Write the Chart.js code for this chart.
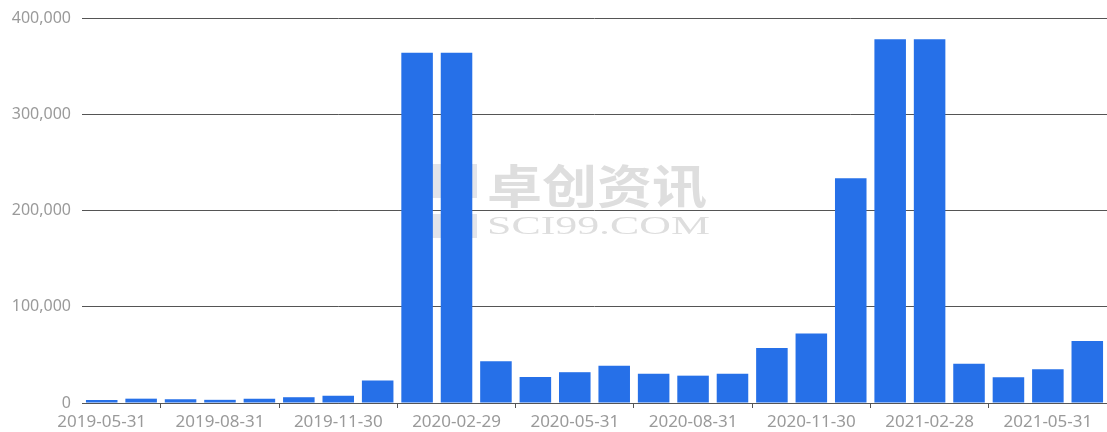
<!DOCTYPE html>
<html>
<head>
<meta charset="utf-8">
<script src="https://cdn.jsdelivr.net/npm/chart.js@4/dist/chart.umd.min.js"></script>
<style>
  html, body { margin: 0; padding: 0; background: #ffffff; }
  #wrap { position: relative; width: 1107px; height: 432px; }
</style>
</head>
<body>
<div id="wrap"><canvas id="c" width="1107" height="432"></canvas></div>
<script>
const categories = [
  '2019-05-31','2019-06-30','2019-07-31','2019-08-31','2019-09-30','2019-10-31',
  '2019-11-30','2019-12-31','2020-01-31','2020-02-29','2020-03-31','2020-04-30',
  '2020-05-31','2020-06-30','2020-07-31','2020-08-31','2020-09-30','2020-10-31',
  '2020-11-30','2020-12-31','2021-01-31','2021-02-28','2021-03-31','2021-04-30',
  '2021-05-31','2021-06-30'
];
const values = [
  3100, 4500, 4000, 3300, 4300, 6000,
  7500, 23500, 364000, 364000, 43500, 27000,
  32000, 38800, 30500, 28400, 30500, 57200,
  72100, 233500, 378000, 378000, 40800, 26700,
  35000, 64500
];
const yTicks = [0, 100000, 200000, 300000, 400000];
const watermarkCN = '卓创资讯';
const watermarkEN = 'SCI99.COM';

const BAR_COLOR = '#2670e8';
const GRID_COLOR = '#555555';
const LABEL_COLOR = '#9a9a9a';

const watermark = {
  id: 'watermark',
  beforeDraw(chart) {
    const ctx = chart.ctx;
    ctx.save();
    // logo blocks (mostly hidden behind bars)
    ctx.fillStyle = '#e2e4ea';
    ctx.fillRect(432, 164, 45, 34);
    ctx.fillRect(432, 214, 45, 24);
    // Chinese text
    ctx.fillStyle = '#dedede';
    ctx.textBaseline = 'alphabetic';
    ctx.font = 'bold 46px "Noto Sans CJK SC"';
    let w = ctx.measureText(watermarkCN).width;
    ctx.save();
    ctx.translate(487, 203);
    ctx.scale(220 / w, 1);
    ctx.fillText(watermarkCN, 0, 0);
    ctx.restore();
    // English text
    ctx.font = '26px "Liberation Serif", "DejaVu Serif", serif';
    w = ctx.measureText(watermarkEN).width;
    ctx.save();
    ctx.translate(487, 234);
    ctx.scale(223 / w, 1);
    ctx.fillText(watermarkEN, 0, 0);
    ctx.restore();
    ctx.restore();
  }
};

new Chart(document.getElementById('c'), {
  type: 'bar',
  data: {
    labels: categories,
    datasets: [{
      data: values,
      backgroundColor: BAR_COLOR,
      borderWidth: 0,
      categoryPercentage: 0.8,
      barPercentage: 1.0
    }]
  },
  plugins: [watermark],
  options: {
    responsive: false,
    animation: false,
    events: [],
    layout: { padding: { top: 18, right: 0, bottom: 0, left: 0 } },
    plugins: { legend: { display: false }, tooltip: { enabled: false } },
    scales: {
      x: {
        offset: true,
        afterFit(scale) { scale.height = 29; scale.paddingLeft = 0; scale.paddingRight = 0; },
        border: { display: true, color: GRID_COLOR, width: 1 },
        grid: {
          offset: true,
          drawOnChartArea: false,
          drawTicks: true,
          tickLength: 5,
          tickColor: (ctx) => (ctx.index % 3 === 2 && ctx.index < categories.length) ? GRID_COLOR : 'rgba(0,0,0,0)'
        },
        ticks: {
          autoSkip: false,
          maxRotation: 0,
          minRotation: 0,
          padding: 4,
          color: LABEL_COLOR,
          font: { family: '"Noto Sans"', size: 17 },
          callback: function(v, i) { return i % 3 === 0 ? categories[i] : ''; }
        }
      },
      y: {
        min: 0,
        max: 400000,
        afterFit(scale) { scale.width = 82; scale.paddingTop = 0; scale.paddingBottom = 0; },
        afterBuildTicks(scale) { scale.ticks = yTicks.map(v => ({ value: v })); },
        border: { display: false },
        grid: { color: GRID_COLOR, lineWidth: 1, drawTicks: false },
        ticks: {
          padding: 11,
          color: LABEL_COLOR,
          font: { family: '"Noto Sans"', size: 16 },
          callback: (v) => v.toLocaleString('en-US')
        }
      }
    }
  }
});
</script>
</body>
</html>
